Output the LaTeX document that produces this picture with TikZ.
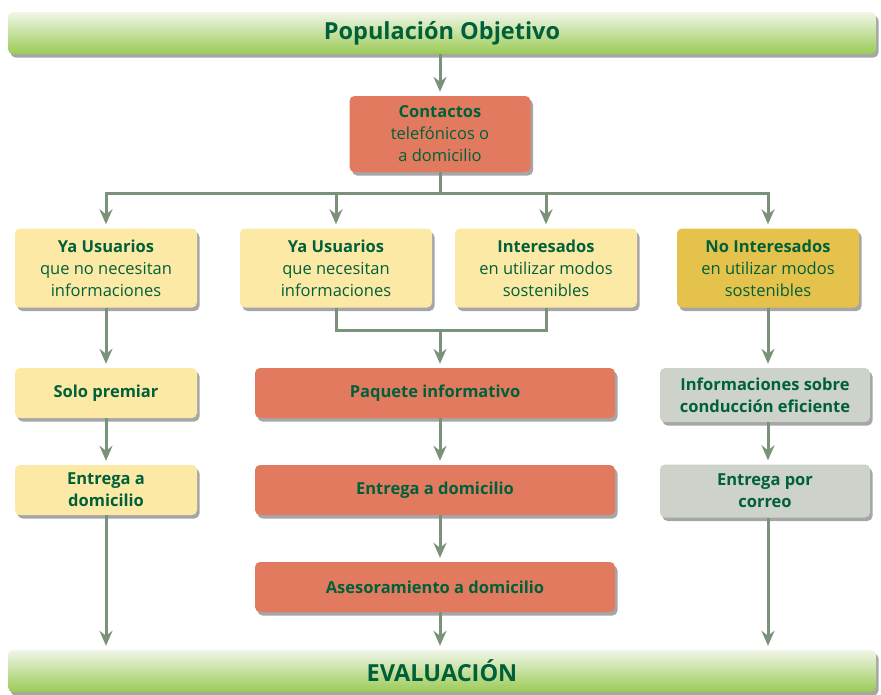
\documentclass[tikz,border=0pt]{standalone}
\usepackage{fontspec}
\setmainfont{Open Sans}
\usetikzlibrary{shadows,arrows.meta}
\definecolor{verdetexto}{HTML}{00603A}
\definecolor{salmon}{HTML}{E27A5F}
\definecolor{amarillo}{HTML}{FDE9A6}
\definecolor{oro}{HTML}{E5C24B}
\definecolor{gris}{HTML}{CDD2CA}
\definecolor{verdelinea}{HTML}{7A9279}
\definecolor{barraclara}{HTML}{F0F6E8}
\definecolor{barraoscura}{HTML}{9BCB55}
\tikzset{
caja/.style={rounded corners=5pt, align=center, inner sep=0pt, text=verdetexto,
  font=\fontsize{16.5}{22}\selectfont,
  drop shadow={shadow xshift=2.5pt, shadow yshift=-3.5pt, fill=black, opacity=0.35}},
cajanegrita/.style={font=\fontsize{16.5}{22}\selectfont\bfseries},
barra/.style={caja, top color=barraclara, bottom color=barraoscura,
  minimum width=868pt, minimum height=42pt, font=\fontsize{23.5}{28}\selectfont\bfseries},
cajasalmon/.style={caja, fill=salmon},
cajaamarilla/.style={caja, fill=amarillo},
cajaoro/.style={caja, fill=oro},
cajagris/.style={caja, fill=gris},
linea/.style={draw=verdelinea, line width=3pt},
flecha/.style={linea, -{Stealth[length=15pt, width=13pt, inset=5pt]}, shorten >=4pt}
}

\begin{document}
\begin{tikzpicture}[x=1pt, y=-1pt]
\useasboundingbox (0,0) rectangle (881,694);
% cajas
\node[barra] (pob) at (442,33) {Populación Objetivo};
\node[cajasalmon, minimum width=181pt, minimum height=76pt] (cont) at (440,134)
  {{\bfseries Contactos}\\telefónicos o\\a domicilio};
\node[cajaamarilla, minimum width=182pt, minimum height=79pt] (yanon) at (106,268)
  {{\bfseries Ya Usuarios}\\que no necesitan\\informaciones};
\node[cajaamarilla, minimum width=192pt, minimum height=79pt] (yasi) at (336,268)
  {{\bfseries Ya Usuarios}\\que necesitan\\informaciones};
\node[cajaamarilla, minimum width=182pt, minimum height=79pt] (inter) at (546,268)
  {{\bfseries Interesados}\\en utilizar modos\\sostenibles};
\node[cajaoro, minimum width=182pt, minimum height=79pt] (nointer) at (768,268)
  {{\bfseries No Interesados}\\en utilizar modos\\sostenibles};
\node[cajaamarilla, cajanegrita, minimum width=182pt, minimum height=50pt] (solo) at (106,393)
  {Solo premiar};
\node[cajasalmon, cajanegrita, minimum width=360pt, minimum height=50pt] (paq) at (435,393)
  {Paquete informativo};
\node[cajagris, cajanegrita, minimum width=210pt, minimum height=54pt] (infos) at (765,395)
  {Informaciones sobre\\conducción eficiente};
\node[cajaamarilla, cajanegrita, minimum width=182pt, minimum height=50pt] (entizq) at (106,490)
  {Entrega a\\domicilio};
\node[cajasalmon, cajanegrita, minimum width=360pt, minimum height=50pt] (entcen) at (435,490)
  {Entrega a domicilio};
\node[cajagris, cajanegrita, minimum width=210pt, minimum height=53pt] (correo) at (765,491)
  {Entrega por\\correo};
\node[cajasalmon, cajanegrita, minimum width=360pt, minimum height=50pt] (ases) at (435,587)
  {Asesoramiento a domicilio};
\node[barra] (eval) at (442,671) {EVALUACIÓN};
% conectores
\coordinate (junta) at (440,330);
\draw[flecha] (pob.south -| cont) -- (cont.north);
\draw[linea] (cont.south) -- ++(0,21) coordinate (reparto);
\draw[flecha] (reparto) -| (yanon.north);
\draw[flecha] (reparto) -| (yasi.north);
\draw[flecha] (reparto) -| (inter.north);
\draw[flecha] (reparto) -| (nointer.north);
\draw[linea] (yasi.south) |- (junta) -| (inter.south);
\draw[flecha] (junta) -- (junta |- paq.north);
\draw[flecha] (yanon) -- (solo);
\draw[flecha] (solo) -- (entizq);
\draw[flecha] (entizq) -- (entizq |- eval.north);
\draw[flecha] (paq.south -| junta) -- (entcen.north -| junta);
\draw[flecha] (entcen.south -| junta) -- (ases.north -| junta);
\draw[flecha] (ases.south -| junta) -- (eval.north -| junta);
\draw[flecha] (nointer) -- (nointer |- infos.north);
\draw[flecha] (infos.south -| nointer) -- (correo.north -| nointer);
\draw[flecha] (correo.south -| nointer) -- (nointer |- eval.north);
\end{tikzpicture}
\end{document}
